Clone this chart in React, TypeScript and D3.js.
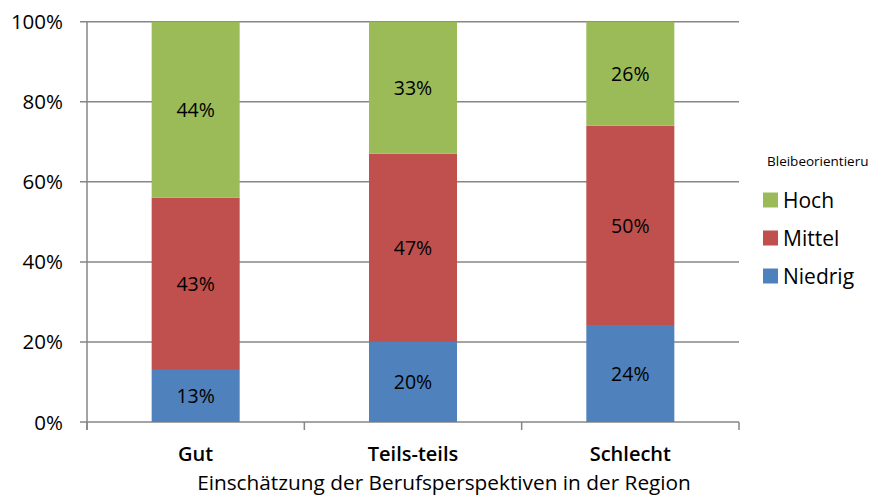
import React from "react";
import * as d3 from "d3";

const categories = ["Gut", "Teils-teils", "Schlecht"];
const seriesNames = ["Niedrig", "Mittel", "Hoch"];
const niedrig = [13, 20, 24];
const mittel = [43, 47, 50];
const hoch = [44, 33, 26];
const yTicks = [0, 20, 40, 60, 80, 100];
const colors = ["#4F81BD", "#C0504D", "#9BBB59"];
const xTitle = "Einschätzung der Berufsperspektiven in der Region";
const legendTitle = "Bleibeorientieru";

const FONT = "'Open Sans', 'Noto Sans', sans-serif";

export default function App() {
  const W = 875, H = 496;
  const x0 = 87, x1 = 739, yTop = 21.7, yBot = 422;
  const x = d3.scaleBand<string>().domain(categories).range([x0, x1]).paddingInner(0.595).paddingOuter(0.2975);
  const y = d3.scaleLinear().domain([0, 100]).range([yBot, yTop]);
  const rows = categories.map((c, i) => ({ cat: c, Niedrig: niedrig[i], Mittel: mittel[i], Hoch: hoch[i] }));
  const stack = d3.stack<any>().keys(seriesNames)(rows);
  const step = (x1 - x0) / categories.length;
  const grid = "#868686";

  return (
    <svg width={W} height={H} style={{ position: "absolute", left: 0, top: 0 }} fontFamily={FONT}>
      <rect width={W} height={H} fill="#fff" />
      {yTicks.map((t) => (
        <g key={t}>
          <line x1={80} x2={x1} y1={y(t)} y2={y(t)} stroke={grid} strokeWidth={1.5} />
          <text x={63} y={y(t) + 7.5} textAnchor="end" fontSize={20.5} fill="#000">{t}%</text>
        </g>
      ))}
      <line x1={x0} x2={x0} y1={yTop} y2={yBot + 8} stroke={grid} strokeWidth={1.5} />
      {d3.range(categories.length + 1).map((i) => (
        <line key={i} x1={x0 + i * step} x2={x0 + i * step} y1={yBot} y2={yBot + 8} stroke={grid} strokeWidth={1.5} />
      ))}
      {stack.map((layer, si) => (
        <g key={seriesNames[si]}>
          {layer.map((d, i) => (
            <g key={i}>
              <rect x={x(categories[i])} width={x.bandwidth()} y={y(d[1])} height={y(d[0]) - y(d[1])} fill={colors[si]} />
              <text x={(x(categories[i]) as number) + x.bandwidth() / 2} y={(y(d[0]) + y(d[1])) / 2 + 7} textAnchor="middle" fontSize={19.5} fill="#000">
                {d[1] - d[0]}%
              </text>
            </g>
          ))}
        </g>
      ))}
      {categories.map((c) => (
        <text key={c} x={(x(c) as number) + x.bandwidth() / 2} y={461} textAnchor="middle" fontSize={20} fontWeight={600} fill="#000">{c}</text>
      ))}
      <text x={444} y={490} textAnchor="middle" fontSize={20.8} fill="#000">{xTitle}</text>
      <text x={767} y={166} fontSize={13.5} fill="#000">{legendTitle}</text>
      {[...seriesNames].reverse().map((s, i) => {
        const si = seriesNames.length - 1 - i;
        const cy = 200 + i * 38;
        return (
          <g key={s}>
            <rect x={763} y={cy - 7.5} width={15} height={15} fill={colors[si]} />
            <text x={783} y={cy + 8} fontSize={21} fill="#000">{s}</text>
          </g>
        );
      })}
    </svg>
  );
}
